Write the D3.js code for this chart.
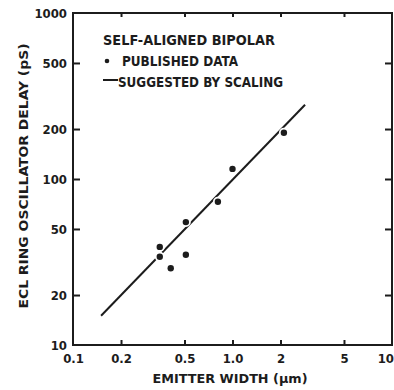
<!DOCTYPE html>
<html>
<head>
<meta charset="utf-8">
<script src="https://cdn.jsdelivr.net/npm/d3@7"></script>
<style>
  html, body { margin: 0; padding: 0; background: #fff; }
  svg { display: block; }
  text { font-family: "DejaVu Sans Condensed", "DejaVu Sans", sans-serif; font-weight: bold; fill: #1c1c1c; }
</style>
</head>
<body>
<svg id="chart" width="394" height="390"></svg>
<script>
// ---- data ----
const emitterWidth = [2.1, 1.0, 0.81, 0.51, 0.35, 0.35, 0.51, 0.41];   // µm
const ringDelay    = [190, 115, 73, 55, 39, 34, 35, 29];               // pS
const scalingWidth = [0.15, 2.85];                                     // µm
const scalingDelay = [15, 280];                                        // pS
const xTickValues = [0.1, 0.2, 0.5, 1.0, 2, 5, 10];
const xTickLabels = ["0.1", "0.2", "0.5", "1.0", "2", "5", "10"];
const yTickValues = [10, 20, 50, 100, 200, 500, 1000];
const yTickLabels = ["10", "20", "50", "100", "200", "500", "1000"];
const legendLines = ["SELF-ALIGNED BIPOLAR", "PUBLISHED DATA", "SUGGESTED BY SCALING"];
const xTitle = "EMITTER WIDTH (\u03bcm)";
const yTitle = "ECL RING OSCILLATOR DELAY (pS)";

(function () {
const ink = "#1c1c1c";
const svg = d3.select("#chart");
const pL = 73, pR = 392, pT = 13, pB = 345;

const x = d3.scaleLog().domain([0.1, 10]).range([pL, pR]);
const y = d3.scaleLog().domain([10, 1000]).range([pB, pT]);

// frame
svg.append("rect")
  .attr("x", pL).attr("y", pT)
  .attr("width", pR - pL).attr("height", pB - pT)
  .attr("fill", "none").attr("stroke", ink).attr("stroke-width", 2);

// axes
const fmtX = v => xTickLabels[xTickValues.indexOf(v)];
const fmtY = v => yTickLabels[yTickValues.indexOf(v)];

const gx = svg.append("g").attr("transform", `translate(0,${pB})`)
  .call(d3.axisBottom(x).tickValues(xTickValues).tickFormat(fmtX).tickSize(-5).tickPadding(9));
const gxTop = svg.append("g").attr("transform", `translate(0,${pT})`)
  .call(d3.axisTop(x).tickValues(xTickValues.slice(1, -1)).tickFormat("").tickSize(-4));
const gy = svg.append("g").attr("transform", `translate(${pL},0)`)
  .call(d3.axisLeft(y).tickValues(yTickValues).tickFormat(fmtY).tickSize(-7).tickPadding(6));
const gyR = svg.append("g").attr("transform", `translate(${pR},0)`)
  .call(d3.axisRight(y).tickValues(yTickValues.slice(1, -1)).tickFormat("").tickSize(-7));

[gx, gxTop, gy, gyR].forEach(g => {
  g.select(".domain").remove();
  g.selectAll(".tick line").attr("stroke", ink).attr("stroke-width", 2);
});
[gx, gy].forEach(g => g.selectAll(".tick text").attr("font-size", 13).attr("fill", ink)
  .attr("font-family", "'DejaVu Sans Condensed', sans-serif").attr("font-weight", "bold"));
gx.selectAll(".tick").filter(d => d === 0.1 || d === 10).select("line").remove();
gy.selectAll(".tick").filter(d => d === 10 || d === 1000).select("line").remove();
// keep the last x label inside the picture
gx.selectAll(".tick").filter(d => d === 10).select("text")
  .attr("text-anchor", "end").attr("x", 1.5);

// scaling line
svg.append("path")
  .datum(scalingWidth.map((w, i) => [w, scalingDelay[i]]))
  .attr("d", d3.line().x(d => x(d[0])).y(d => y(d[1])))
  .attr("stroke", ink).attr("stroke-width", 2).attr("fill", "none");

// published data points with white halo (breaks the line as in the original)
svg.append("g").selectAll("circle")
  .data(emitterWidth.map((w, i) => [w, ringDelay[i]]))
  .join("circle")
  .attr("cx", d => x(d[0])).attr("cy", d => y(d[1]))
  .attr("r", 3.2)
  .attr("fill", ink).attr("stroke", "#fff").attr("stroke-width", 3.5)
  .attr("paint-order", "stroke");

// legend
const lg = svg.append("g");
lg.append("text").attr("x", 103).attr("y", 45).attr("font-size", 14)
  .attr("textLength", 172).attr("lengthAdjust", "spacingAndGlyphs").text(legendLines[0]);
lg.append("circle").attr("cx", 107).attr("cy", 61).attr("r", 2.3).attr("fill", ink);
lg.append("text").attr("x", 122).attr("y", 66).attr("font-size", 14)
  .attr("textLength", 116).attr("lengthAdjust", "spacingAndGlyphs").text(legendLines[1]);
lg.append("line").attr("x1", 103).attr("x2", 118).attr("y1", 80).attr("y2", 80)
  .attr("stroke", ink).attr("stroke-width", 2);
lg.append("text").attr("x", 118).attr("y", 87).attr("font-size", 14)
  .attr("textLength", 165).attr("lengthAdjust", "spacingAndGlyphs").text(legendLines[2]);

// axis titles
svg.append("text").attr("x", 230).attr("y", 383).attr("text-anchor", "middle")
  .attr("font-size", 13).attr("textLength", 155).attr("lengthAdjust", "spacingAndGlyphs").text(xTitle);
svg.append("text").attr("transform", "translate(28,176) rotate(-90)").attr("text-anchor", "middle")
  .attr("font-size", 13).attr("textLength", 265).attr("lengthAdjust", "spacingAndGlyphs").text(yTitle);
})();
</script>
</body>
</html>
